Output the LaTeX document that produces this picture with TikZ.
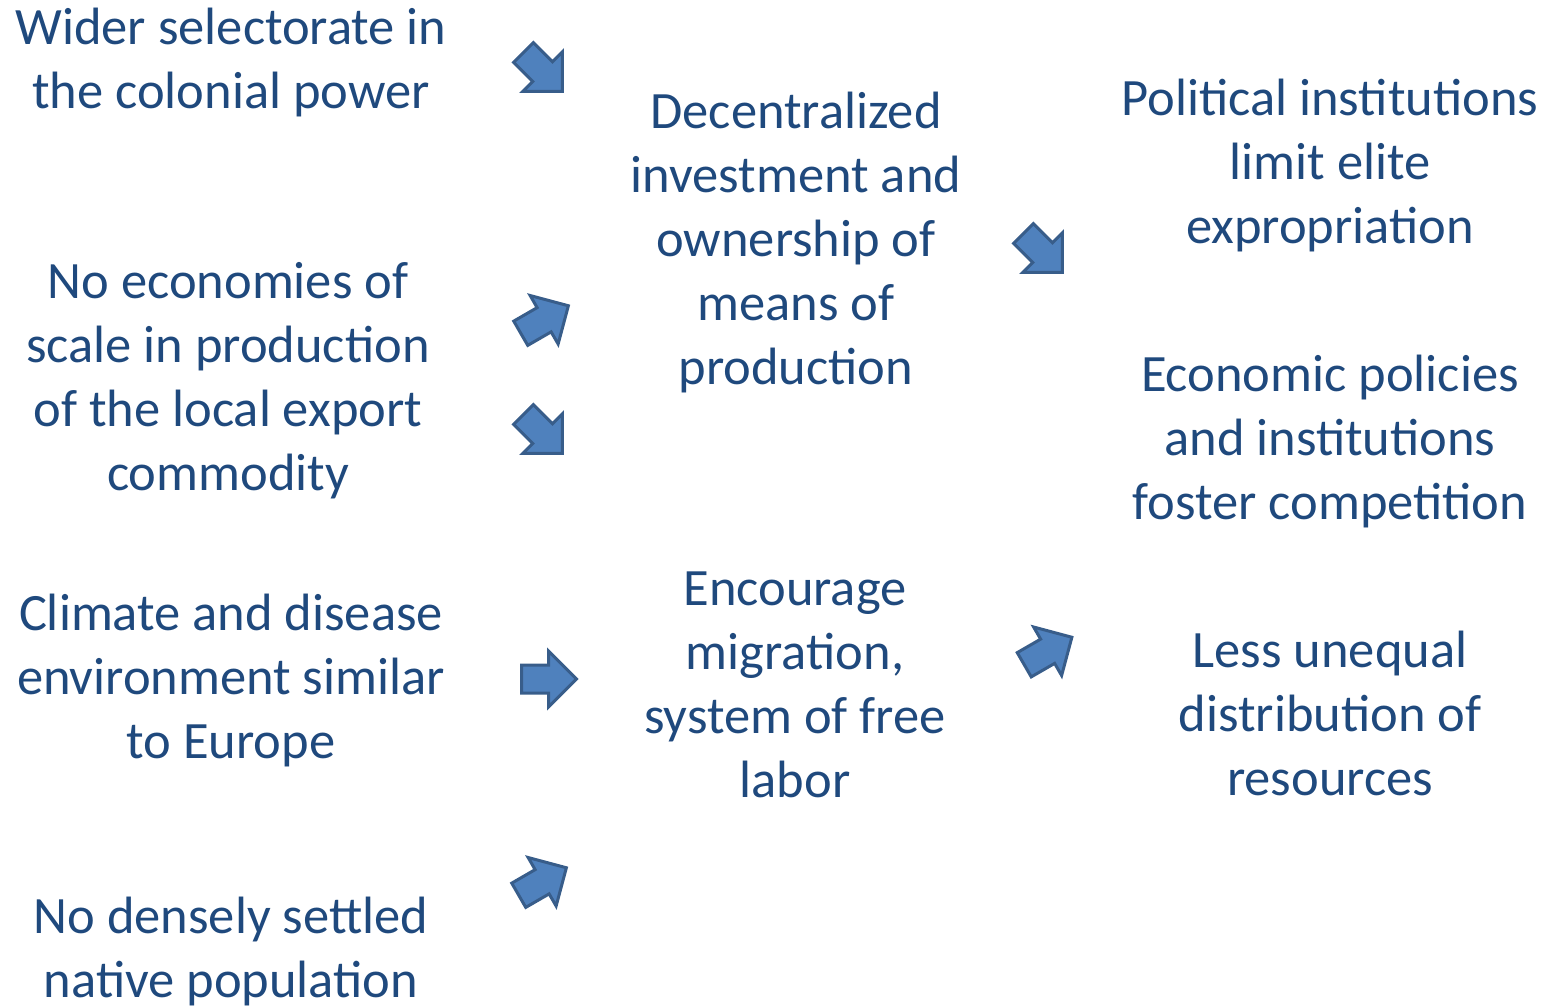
\documentclass[tikz,border=0pt]{standalone}
\usepackage{fontspec}
\setmainfont{Carlito}
\usetikzlibrary{shapes.arrows}
\definecolor{txtblue}{HTML}{1F497D}
\definecolor{arrfill}{HTML}{4F81BD}
\definecolor{arrline}{HTML}{385D8A}
\tikzset{
  txt/.style={align=center, text=txtblue, inner sep=0pt, font=\fontsize{52.5}{64}\selectfont},
  blk/.style={single arrow, draw=arrline, fill=arrfill, line width=3pt, inner xsep=0pt, inner ysep=12.5pt,
    minimum height=55pt, single arrow head extend=14pt}
}
\begin{document}
\begin{tikzpicture}[x=1pt,y=-1pt]
			%%%%% START %%%%%
			\useasboundingbox (0,0) rectangle (1547,1005);
			
			% causes
			\node[txt] (wider) at (231, 62) {Wider selectorate in\\the colonial power};
			\node[txt] (scale) at (228, 381) {No economies of\\scale in production\\of the local export\\commodity};
			\node[txt] (climate) at (231, 680) {Climate and disease\\environment similar\\to Europe};
			\node[txt] (native) at (231, 951) {No densely settled\\native population};
			
			% channels
			\node[txt] (decent) at (796, 242) {Decentralized\\investment and\\ownership of\\means of\\production};
			\node[txt] (migr) at (795, 685) {Encourage\\migration,\\system of free\\labor};
			
			% outcomes
			\node[txt] (polit) at (1330, 165) {Political institutions\\limit elite\\expropriation};
			\node[txt] (econ) at (1330, 441) {Economic policies\\and institutions\\foster competition};
			\node[txt] (less) at (1330, 713) {Less unequal\\distribution of\\resources};
			
			% block arrows
			\node[blk, rotate=-45] (a1) at (538, 67) {};
			\node[blk, rotate=30] (a2) at (538.5, 323) {};
			\node[blk, rotate=-45] (a3) at (538, 429) {};
			\node[blk] (a4) at (542, 679) {};
			\node[blk, rotate=30] (a5) at (536.5, 885) {};
			\node[blk, rotate=-45] (a6) at (1038, 248) {};
			\node[blk, rotate=30] (a7) at (1042, 654.5) {};
			
			%%%%% END %%%%%
		\end{tikzpicture}
\end{document}
